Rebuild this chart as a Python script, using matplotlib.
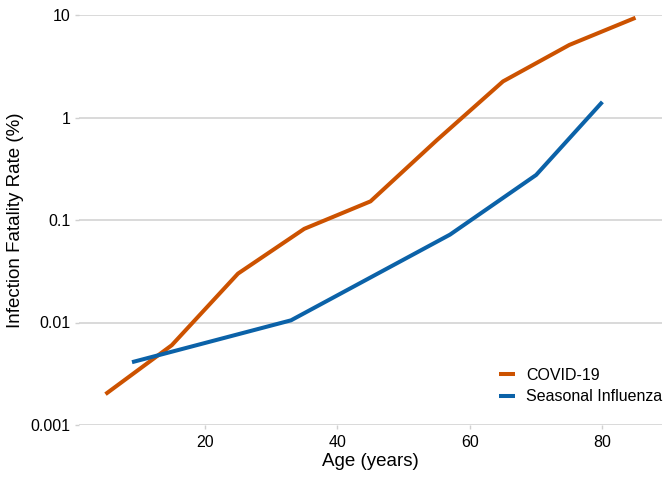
import matplotlib
matplotlib.use("Agg")
import matplotlib.pyplot as plt
from matplotlib.ticker import FixedLocator, FixedFormatter, NullLocator

plt.rcParams['font.family'] = ['Liberation Sans', 'DejaVu Sans']

covid_age = [5, 15, 25, 35, 45, 55, 65, 75, 85]
covid_ifr = [0.002, 0.006, 0.03, 0.082, 0.152, 0.6, 2.25, 5.1, 9.4]
flu_age = [9, 33, 57, 70, 80]
flu_ifr = [0.0041, 0.0105, 0.072, 0.275, 1.42]

y_ticks = [0.001, 0.01, 0.1, 1, 10]
y_labels = ["0.001", "0.01", "0.1", "1", "10"]
x_ticks = [20, 40, 60, 80]

fig = plt.figure(figsize=(6.72, 4.8), dpi=100)
ax = fig.add_axes([79/672, 55/480, (662-79)/672, (425-15)/480])

ax.plot(covid_age, covid_ifr, color='#CC5200', lw=2.9, label='COVID-19', solid_capstyle='butt')
ax.plot(flu_age, flu_ifr, color='#0B62A8', lw=2.9, label='Seasonal Influenza', solid_capstyle='butt')

ax.set_yscale('log')
ax.set_ylim(0.001, 10)
ax.set_xlim(1, 89)
ax.yaxis.set_major_locator(FixedLocator(y_ticks))
ax.yaxis.set_major_formatter(FixedFormatter(y_labels))
ax.yaxis.set_minor_locator(NullLocator())
ax.set_xticks(x_ticks)

for s in ax.spines.values():
    s.set_visible(False)
ax.grid(axis='y', color='#d0d0d0', lw=1.1)
ax.grid(axis='x', visible=False)
ax.tick_params(axis='both', colors='#d0d0d0', labelcolor='black', labelsize=11.5, length=3, width=1)
ax.tick_params(axis='y', pad=3)
ax.tick_params(axis='x', pad=4)

ax.set_xlabel('Age (years)', fontsize=13.5, labelpad=2)
ax.set_ylabel('Infection Fatality Rate (%)', fontsize=13.5, labelpad=5)

leg = ax.legend(loc='lower right', bbox_to_anchor=(1.012, 0.035), frameon=False, fontsize=11.5,
                handlelength=1.0, handletextpad=0.75, labelspacing=0.4, borderaxespad=0)

fig.savefig('out.png', dpi=100)
